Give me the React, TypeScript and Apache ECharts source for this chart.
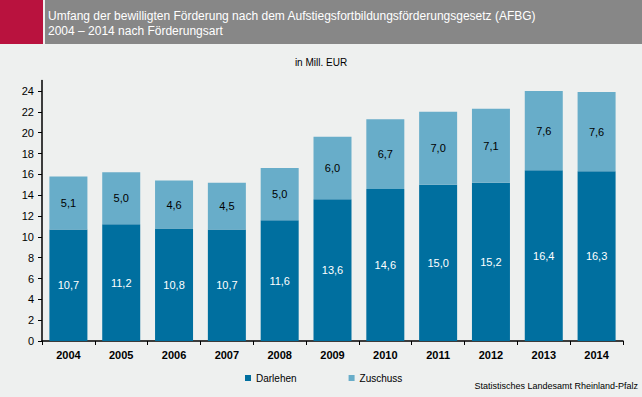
import React, { useEffect, useRef } from "react";
import * as echarts from "echarts";

const years = ["2004", "2005", "2006", "2007", "2008", "2009", "2010", "2011", "2012", "2013", "2014"];
const darlehen = [10.7, 11.2, 10.8, 10.7, 11.6, 13.6, 14.6, 15.0, 15.2, 16.4, 16.3];
const zuschuss = [5.1, 5.0, 4.6, 4.5, 5.0, 6.0, 6.7, 7.0, 7.1, 7.6, 7.6];
const yTicks = [0, 2, 4, 6, 8, 10, 12, 14, 16, 18, 20, 22, 24];

const titleLine1 = "Umfang der bewilligten Förderung nach dem Aufstiegsfortbildungsförderungsgesetz (AFBG)";
const titleLine2 = "2004 – 2014 nach Förderungsart";
const unitText = "in Mill. EUR";
const sourceText = "Statistisches Landesamt Rheinland-Pfalz";

const FONT = "Liberation Sans, Arial, sans-serif";
const fmt = (v: number) => v.toFixed(1).replace(".", ",");

export default function App() {
  const ref = useRef<HTMLDivElement>(null);
  useEffect(() => {
    document.body.style.margin = "0";
    const chart = echarts.init(ref.current!, null, { renderer: "svg" });
    chart.setOption({
      animation: false,
      backgroundColor: "#eef0ef",
      textStyle: { fontFamily: FONT },
      graphic: [
        { type: "rect", shape: { x: 0, y: 0, width: 43, height: 44 }, style: { fill: "#b9123e" } },
        { type: "rect", shape: { x: 45, y: 0, width: 597, height: 44 }, style: { fill: "#878787" } },
        {
          type: "text", x: 48, y: 10,
          style: { text: titleLine1, fill: "#ffffff", font: `12px ${FONT}` },
        },
        {
          type: "text", x: 48, y: 25,
          style: { text: titleLine2, fill: "#ffffff", font: `12px ${FONT}` },
        },
        {
          type: "text", x: 321, y: 57,
          style: { text: unitText, fill: "#000000", font: `10px ${FONT}`, textAlign: "center" },
        },
        {
          type: "text", right: 4, y: 381,
          style: { text: sourceText, fill: "#000000", font: `9px ${FONT}` },
        },
      ],
      legend: {
        bottom: 9,
        left: 240,
        itemGap: 52,
        itemWidth: 6,
        itemHeight: 6,
        icon: "rect",
        textStyle: { fontFamily: FONT, fontSize: 10, color: "#000" },
        data: ["Darlehen", "Zuschuss"],
      },
      grid: { left: 42, right: 19, top: 80.6, bottom: 56, containLabel: false },
      xAxis: {
        type: "category",
        data: years,
        axisLine: { lineStyle: { color: "#000", width: 1.5 } },
        axisTick: { show: true, length: 4, lineStyle: { color: "#000" } },
        axisLabel: { color: "#000", fontSize: 11, fontWeight: "bold", margin: 8, fontFamily: FONT },
      },
      yAxis: {
        type: "value",
        min: 0,
        max: 25,
        interval: 1,
        splitLine: { show: false },
        axisLine: { show: true, lineStyle: { color: "#000", width: 1.5 } },
        axisTick: { show: true, length: 4, customValues: yTicks, lineStyle: { color: "#000" } },
        axisLabel: { color: "#000", fontSize: 11, margin: 8, customValues: yTicks, fontFamily: FONT },
      },
      series: [
        {
          name: "Darlehen",
          type: "bar",
          stack: "total",
          data: darlehen,
          barWidth: 38,
          itemStyle: { color: "#006f9f" },
          label: { show: true, position: "inside", color: "#fff", fontSize: 11, fontFamily: FONT, formatter: (p: any) => fmt(p.value) },
        },
        {
          name: "Zuschuss",
          type: "bar",
          stack: "total",
          data: zuschuss,
          barWidth: 38,
          itemStyle: { color: "#68adc9" },
          label: { show: true, position: "inside", color: "#000", fontSize: 11, fontFamily: FONT, formatter: (p: any) => fmt(p.value) },
        },
      ],
    });
    return () => chart.dispose();
  }, []);
  return <div ref={ref} style={{ position: "fixed", left: 0, top: 0, width: 642, height: 397 }} />;
}
